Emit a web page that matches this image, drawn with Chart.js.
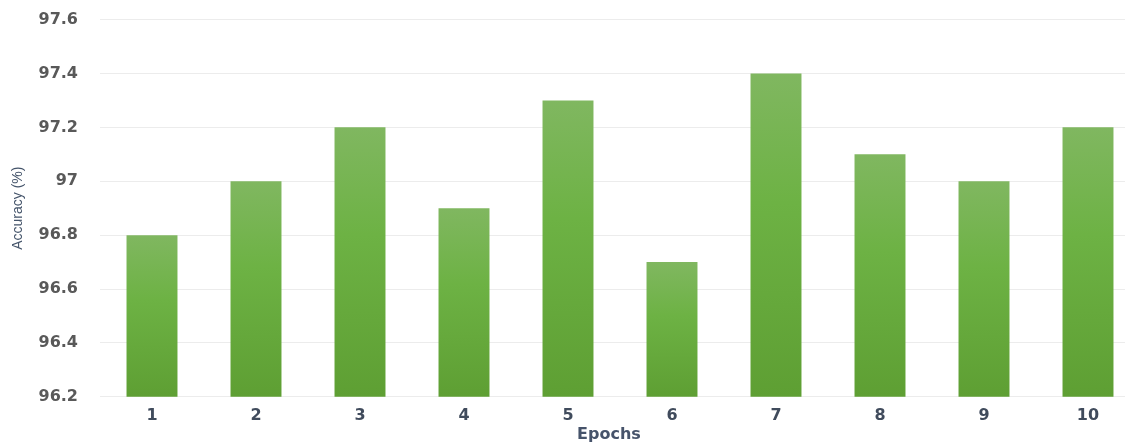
<!DOCTYPE html>
<html>
<head>
<meta charset="utf-8">
<script src="https://cdn.jsdelivr.net/npm/chart.js@4.4.1/dist/chart.umd.min.js"></script>
<style>
  html, body { margin: 0; padding: 0; background: #fff; overflow: hidden; }
  #wrap { width: 1142px; height: 457px; position: relative; top: -12px; }
</style>
</head>
<body>
<div id="wrap"><canvas id="myChart"></canvas></div>
<script>
// epochs and accuracy per epoch
var epochs = ['1', '2', '3', '4', '5', '6', '7', '8', '9', '10'];
var accuracy = [96.8, 97.0, 97.2, 96.9, 97.3, 96.7, 97.4, 97.1, 97.0, 97.2];
var yTicks = [96.2, 96.4, 96.6, 96.8, 97.0, 97.2, 97.4, 97.6];
var xTitle = 'Epochs';
var yTitle = 'Accuracy (%)';

// vertical gradient for each bar, light at the top
function barFill(context){
    var chart = context.chart;
    var y = chart.scales.y;
    if (!y || context.parsed === undefined) return '#6caf43';
    var top = y.getPixelForValue(context.parsed.y);
    var bottom = y.getPixelForValue(y.min);
    if (!isFinite(top) || !isFinite(bottom) || top === bottom) return '#6caf43';
    var g = chart.ctx.createLinearGradient(0, top, 0, bottom);
    g.addColorStop(0, '#80b760');
    g.addColorStop(0.4, '#6db244');
    g.addColorStop(1, '#5e9f33');
    return g;
}

// x axis title, centred under the visible part of the plot
var epochTitle = {
    id: 'epochTitle',
    afterDraw: function(chart){
        var c = chart.ctx;
        var area = chart.chartArea;
        c.save();
        c.font = 'bold 16px "DejaVu Sans"';
        c.fillStyle = '#46536a';
        c.textAlign = 'center';
        c.textBaseline = 'middle';
        c.fillText(xTitle, (area.left + 1118) / 2, area.bottom + 38);
        c.restore();
    }
};

var ctx = document.getElementById('myChart').getContext('2d');
var myChart = new Chart(ctx, {
    type: 'bar',
    data: {
        labels: epochs,
        datasets: [{
            label: 'Accuracy',
            data: accuracy,
            backgroundColor: barFill,
            borderWidth: 0,
            barPercentage: 0.49,
            categoryPercentage: 1
        }]
    },
    plugins: [epochTitle],
    options: {
        responsive: true,
        maintainAspectRatio: false,
        animation: false,
        layout: { padding: { top: 0, right: 2, bottom: 11, left: 0 } },
        plugins: {
            legend: { display: false },
            tooltip: { enabled: false }
        },
        scales: {
            x: {
                grid: { display: false, drawTicks: false },
                border: { display: false },
                ticks: {
                    padding: 9,
                    color: '#404b5c',
                    font: { family: 'DejaVu Sans', size: 16, weight: 'bold' }
                }
            },
            y: {
                min: 96.2,
                max: 97.6,
                afterBuildTicks: function(scale){
                    scale.ticks = yTicks.map(function(v){ return { value: v }; });
                },
                afterFit: function(scale){ scale.width = 100; },
                grid: { color: '#ececec', drawTicks: false, lineWidth: 1 },
                border: { display: false },
                ticks: {
                    padding: 22,
                    color: '#595959',
                    font: { family: 'DejaVu Sans', size: 16, weight: 'bold' },
                    callback: function(v){ return String(Math.round(v * 10) / 10); }
                },
                title: {
                    display: true,
                    text: yTitle,
                    color: '#44546a',
                    padding: { top: 10, bottom: 0 },
                    font: { family: 'Liberation Sans', size: 14 }
                }
            }
        }
    }
});
</script>
</body>
</html>
